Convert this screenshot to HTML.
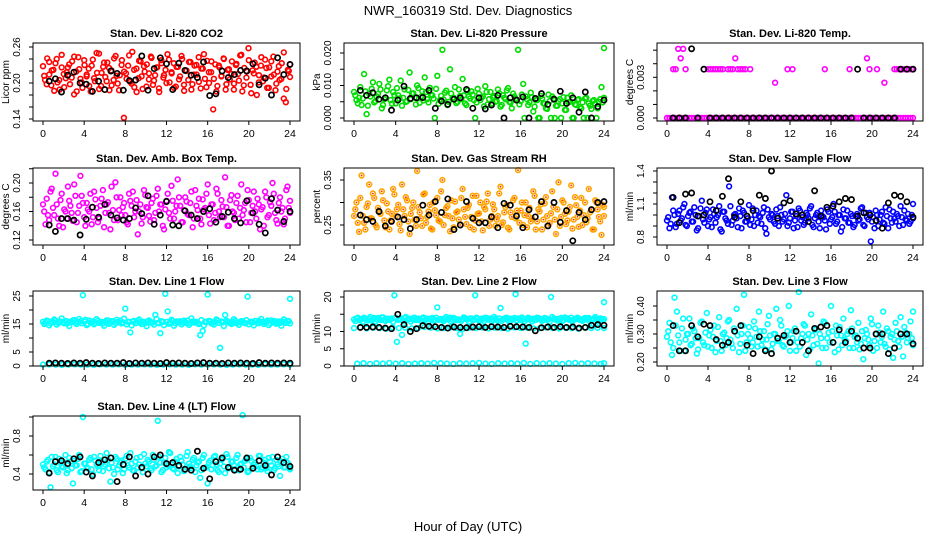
<!DOCTYPE html>
<html><head><meta charset="utf-8">
<style>
html,body{margin:0;padding:0;background:#fff;}
svg{display:block;font-family:"Liberation Sans",sans-serif;}
</style></head>
<body>
<svg id="chart" width="936" height="540" viewBox="0 0 936 540">
<text x="468" y="15" text-anchor="middle" font-size="13">NWR_160319  Std. Dev. Diagnostics</text>
<text x="468" y="531" text-anchor="middle" font-size="13">Hour of Day (UTC)</text>
</svg>
<script>
const hourTicks=[0,4,8,12,16,20,24];
const co2=[228,205,241,214,196,222,233,201,189,247,215,208,226,198,236,181,219,243,207,192,230,211,224,186,239,203,217,249,195,227,210,234,188,221,205,245,199,213,238,142,216,229,202,252,193,224,208,236,190,219,231,206,244,197,213,226,185,238,209,222,248,201,216,233,194,227,211,240,187,220,205,235,198,229,214,243,191,224,207,237,200,218,156,231,195,226,212,241,189,222,206,236,199,230,215,246,186,225,209,258,197,221,234,180,213,229,203,239,192,226,211,244,188,219,205,233,174,168,222,210];
const co2B=[212,198,235,221,187,240,205,226,193,218,231,209,244,186,223,201,238,214,195,229,208,250,190,217,234,203,225,196,241,212,188,230,219,207,246,199,222,185,237,211,228,194,216,242,204,226,191,233,213,200,239,218,192,227,206,245,197,221,235,189,214,230,202,224,248,193,218,236,207,186,229,211,240,198,223,215,189,232,204,247,196,220,238,183,216,227,201,243,209,225,192,236,214,199,228,207,251,190,220,231];
const co2Black=[203,207,185,213,218,200,198,186,203,189,220,216,188,204,205,245,188,224,242,232,189,233,221,213,209,235,179,182,220,209,214,221,220,232,197,208,180,242,214,231];
const pres=[80,55,62,40,135,12,75,90,48,66,105,30,58,85,118,44,70,92,60,38,88,52,140,75,63,100,47,82,125,58,93,70,0,130,55,210,78,40,150,62,95,50,68,120,45,85,60,72,0,90,55,66,98,42,80,63,50,88,35,70,58,92,47,75,60,210,52,105,66,40,78,20,55,0,68,45,30,72,0,60,38,52,0,64,25,48,70,0,40,58,30,0,62,45,28,55,0,50,95,215];
const presB=[70,45,95,60,82,38,66,110,52,74,88,40,63,98,55,80,45,70,115,62,50,86,58,76,42,92,65,54,80,48,72,60,90,44,68,57,84,50,75,62,46,88,58,70,40,66,82,55,48,74,62,36,80,58,45,68,52,76,40,62,85,50,30,66,55,42,72,0,58,48,64,35,55,0,60,44,28,52,66,0,38,58,45,25,62,50,0,42,56,34,48,60,0,38,52,44,30,58,48,62];
const presBlack=[85,70,78,58,62,24,55,98,60,62,63,85,30,52,42,58,62,88,30,62,28,40,70,0,62,55,65,0,60,75,42,58,82,45,62,18,80,0,35,55];
const temp=[0,0,0,0,0,0,0,0,0,0,0,0,0,0,0,0,0,0,0,0,0,0,0,0,0,0,0,0,0,0,0,0,0,0,0,0,0,0,0,0,0,0,0,0,0,0,0,0,0,0,0,0,0,0,0,0,0,0,0,0,0,0,0,0,0,0,0,0,0,0,0,0,0,0,0,0,0,0,0,0,0,0,0,0,0,0,0,0,0,0,0,0,0,0,0,0,0,0,0,0];
const tempUpper=[null,null,36,36,51,44,51,36,null,null,null,null,null,null,null,null,36,36,36,36,36,36,36,null,36,36,36,44,36,36,36,36,null,36,null,null,null,null,null,null,null,null,null,26,null,null,null,null,36,null,36,null,null,null,null,null,null,null,null,null,null,null,null,36,null,null,null,null,null,null,null,null,null,36,null,null,null,null,null,null,44,36,null,null,36,null,null,26,null,null,null,36,36,36,36,36,36,36,36,null];
const tempBlack=[0,0,0,51,0,36,0,0,0,0,0,0,0,0,0,0,0,0,0,0,0,0,0,0,0,0,0,0,0,0,36,0,0,0,0,0,0,36,36,36];
const amb=[170,142,155,188,165,213,150,176,138,160,195,168,147,182,158,210,172,140,163,185,152,177,145,168,190,158,173,135,162,201,148,180,166,155,142,175,188,160,128,170,152,183,165,146,178,158,192,170,140,163,185,150,175,160,205,168,145,180,156,172,138,190,162,150,177,165,198,143,170,158,185,152,167,208,140,176,160,148,182,165,155,172,190,145,168,160,178,135,166,188,152,173,200,158,143,180,165,150,195,158];
const ambB=[160,178,148,192,155,170,140,185,163,150,175,158,198,145,168,182,152,172,160,142,188,165,150,178,138,170,158,195,148,180,162,155,172,145,185,168,152,176,160,143,190,166,154,172,148,182,160,170,135,175,158,196,150,168,180,145,162,174,155,188,150,168,178,142,163,185,155,170,148,192,160,176,152,166,140,183,158,172,150,198,162,145,176,158,188,150,170,163,140,180,155,168,185,148,172,160,142,190,165,175];
const ambBlack=[141,132,150,150,148,127,149,166,152,170,155,151,148,150,165,157,182,142,155,174,141,140,161,155,150,160,164,145,153,159,150,144,175,158,142,130,178,162,146,160];
const rh=[270,300,235,360,255,290,340,265,310,245,280,325,260,298,240,275,318,285,252,340,270,305,230,288,262,370,278,248,320,268,295,240,283,310,258,350,272,292,236,265,302,280,250,330,268,288,245,315,260,275,300,238,285,320,262,296,248,270,335,256,290,244,278,305,265,372,282,250,300,270,258,325,240,285,296,262,312,248,276,290,230,345,268,300,252,280,338,262,294,246,310,272,256,330,285,240,300,268,228,290];
const rhB=[285,255,310,270,240,298,265,320,250,288,275,305,245,280,260,330,270,295,238,285,312,258,275,300,248,290,265,318,255,280,242,300,272,260,325,250,288,270,305,245,278,262,310,285,252,295,268,240,315,276,258,290,302,248,270,285,262,320,250,278,295,240,268,310,282,255,300,272,245,288,265,315,258,280,240,298,270,255,325,262,285,248,305,275,260,290,242,312,268,282,250,300,265,278,240,305,285,258,295,270];
const rhBlack=[272,262,258,280,248,258,268,262,242,262,294,272,302,278,308,240,250,302,265,255,255,268,244,298,294,270,244,284,268,302,248,300,256,282,215,278,262,284,300,302];
const sflow=[95,88,116,100,92,104,97,110,90,102,94,107,86,99,113,93,105,96,89,101,98,108,85,103,95,126,91,100,97,106,88,102,94,109,96,90,104,99,92,107,83,98,101,94,105,90,100,96,118,93,103,88,99,106,95,91,102,97,108,89,100,94,104,98,87,103,96,110,92,100,85,105,97,93,101,89,99,95,106,91,102,96,76,98,104,90,100,93,107,88,97,103,94,99,108,91,96,101,94,110];
const sflowB=[98,92,104,89,101,95,107,91,99,103,94,100,88,106,96,102,90,98,105,93,100,87,103,97,92,108,95,101,89,99,104,94,97,91,106,100,93,98,102,88,105,96,100,92,99,107,94,101,90,97,103,95,89,104,98,93,100,106,91,97,102,88,99,95,105,92,98,103,94,100,89,97,104,93,99,91,101,96,107,90,98,102,94,88,100,96,103,92,99,105,93,97,101,90,98,104,95,92,100,97];
const sflowBlack=[116,93,119,120,99,100,112,104,117,133,98,112,99,104,118,115,140,97,111,113,101,100,94,122,99,107,108,112,115,114,99,102,100,95,88,111,118,117,112,98];
const line1=[158,155,160,152,157,162,154,159,156,161,153,158,163,155,157,160,253,165,150,156,159,154,161,157,152,158,163,155,160,154,157,162,156,205,158,120,159,153,161,156,158,152,160,157,155,183,154,117,158,258,195,156,161,153,158,160,155,157,162,154,159,156,153,110,125,158,255,160,154,157,162,65,156,182,159,154,158,161,155,157,160,153,248,158,156,161,154,159,157,155,162,153,158,160,156,154,159,157,161,240];
const line1B=[150,162,145,158,166,148,155,170,152,160,143,157,164,150,168,153,159,146,162,155,149,167,154,158,144,163,151,160,147,165,156,152,169,149,158,145,161,154,166,150,157,142,163,155,148,168,153,160,146,158,151,165,144,159,156,149,162,153,147,170,155,158,150,164,145,157,161,152,148,166,154,159,143,162,156,150,167,153,147,160,155,164,149,158,145,161,153,168,150,157,146,163,155,151,159,144,166,154,160,152];
const line1Low=[5,6,5,4,5,6,5,5,4,6,5,5,6,4,5,5,6,5,4,5,6,5,5,4,6,5,5,6,5,4,5,6,5,5,4,6,5,5,6,5];
const line1Black=[10,11,10,9,11,10,12,10,9,11,10,10,12,9,11,10,11,10,9,12,10,11,10,9,11,12,10,10,9,11,10,11,10,9,12,10,11,10,11,10];
const line2=[135,138,133,136,140,134,137,132,139,135,136,141,133,137,134,138,205,70,136,90,139,133,137,135,140,134,136,138,132,137,135,139,134,170,136,133,138,135,140,134,137,133,93,136,139,135,138,134,205,137,133,136,140,135,138,134,137,132,168,136,139,134,137,135,208,138,133,136,65,140,135,137,134,139,136,133,138,135,200,137,134,136,139,133,137,135,140,134,136,138,133,137,135,139,134,136,138,135,137,185];
const line2B=[130,140,134,128,138,132,142,136,129,139,133,141,131,137,135,128,140,134,138,130,142,136,129,139,133,137,131,141,135,128,138,132,140,134,136,130,142,137,129,139,133,135,131,141,136,128,138,134,140,132,137,130,139,135,129,142,133,138,131,136,140,128,134,139,132,137,141,130,135,138,129,133,140,136,131,139,134,128,142,137,132,135,130,141,138,133,129,136,140,134,131,139,137,128,135,142,130,138,133,136];
const line2Mid=[110,112,109,111,110,108,112,110,111,109,110,113,111,109,110,112,110,108,111,110,112,109,111,110,108,112,110,111,109,110,112,110,109,111,110,108,112,110,111,110];
const line2Low=[7,8,6,8,7,9,7,8,6,7,8,7,9,8,7,6,8,7,8,9,7,6,8,7,8,7,9,6,8,7,8,7,6,8,9,7,8,7,6,8];
const line2Black=[112,112,113,112,110,108,150,120,100,108,117,115,114,112,110,113,112,111,113,114,112,114,113,112,115,114,113,112,102,111,113,112,114,112,113,110,112,118,120,118];
const line3=[290,340,225,430,380,270,320,240,300,355,265,310,230,285,345,260,375,295,250,330,275,360,240,305,285,350,265,320,390,235,300,440,270,325,255,345,290,380,260,310,280,365,245,300,390,275,330,255,295,400,270,310,240,450,285,335,225,300,370,260,320,195,285,345,250,305,400,270,330,245,295,355,275,310,385,250,295,340,265,210,315,280,355,240,300,330,270,380,255,310,290,215,340,275,360,220,305,285,345,380];
const line3B=[310,270,250,330,295,240,355,280,300,260,320,285,245,340,270,305,255,315,290,235,325,275,300,260,345,280,250,310,295,265,330,240,300,285,270,320,255,310,280,245,335,295,265,300,275,350,260,290,310,240,285,320,270,255,300,330,280,245,295,315,265,300,250,340,285,270,310,235,295,325,260,280,300,250,320,290,270,245,310,285,300,260,335,275,250,305,290,265,320,245,300,280,310,255,290,325,270,300,285,260];
const line3Black=[330,240,240,330,290,335,330,280,260,270,310,330,260,230,290,240,230,285,295,270,310,270,240,320,325,330,270,315,270,310,285,250,250,300,300,230,250,300,300,265];
const line4=[50,45,55,26,48,58,42,52,47,60,44,53,30,49,56,42,100,51,46,57,40,54,48,59,43,50,55,32,47,58,45,52,41,56,49,62,44,53,47,58,42,51,55,46,60,48,96,52,44,57,49,62,46,53,41,58,50,45,63,48,55,42,52,36,57,47,30,54,49,59,44,51,56,41,58,47,53,45,60,50,102,54,42,57,48,52,45,59,47,55,43,53,58,46,50,38,56,47,52,45];
const line4B=[47,53,42,58,50,44,56,48,52,41,57,46,54,49,60,43,51,47,55,45,58,50,44,53,48,62,46,52,40,56,49,54,45,59,47,51,43,57,50,46,61,48,53,44,55,49,58,42,52,47,63,50,45,56,48,54,43,59,51,46,57,49,53,44,60,47,52,45,58,50,42,55,48,61,46,53,49,57,44,51,47,56,43,54,50,48,59,45,52,46,57,49,44,55,48,53,47,58,50,46];
const line4Black=[41,53,54,51,56,58,42,38,52,55,57,32,50,58,38,47,40,58,60,51,52,49,45,44,64,46,35,53,57,47,44,45,57,46,54,49,39,58,52,48];

const co2Ticks=[0.14,0.16,0.18,0.20,0.22,0.24,0.26], co2Labels=["0.14","","","0.20","","","0.26"];
const presTicks=[0,0.005,0.010,0.015,0.020], presLabels=["0.000","","0.010","","0.020"];
const tempTicks=[0,0.001,0.002,0.003,0.004,0.005], tempLabels=["0.000","","","0.003","",""];
const ambTicks=[0.12,0.14,0.16,0.18,0.20,0.22], ambLabels=["0.12","","0.16","","0.20",""];
const rhTicks=[0.25,0.30,0.35], rhLabels=["0.25","","0.35"];
const sfTicks=[0.8,0.9,1.0,1.1,1.2,1.3,1.4], sfLabels=["0.8","","","1.1","","","1.4"];
const l1Ticks=[0,5,10,15,20,25], l1Labels=["0","5","","15","","25"];
const l2Ticks=[0,5,10,15,20], l2Labels=["0","5","10","","20"];
const l3Ticks=[0.20,0.25,0.30,0.35,0.40], l3Labels=["0.20","","0.30","","0.40"];
const l4Ticks=[0.4,0.6,0.8,1.0], l4Labels=["0.4","","0.8",""];

const NS="http://www.w3.org/2000/svg";
const svg=document.getElementById('chart');
const COLX0=[43,354,667], COLW=[247,250,246];
const ROWT=[43,168,291,416], ROWB=[121,245,366,490];
function mk(tag,attrs,parent){const e=document.createElementNS(NS,tag);for(const k in attrs)e.setAttribute(k,attrs[k]);(parent||svg).appendChild(e);return e;}

const panels=[
 {key:'co2',title:'Stan. Dev. Li-820 CO2',ylab:'Licor ppm',c:0,r:0,cal:[0.26,47,0.14,119],div:1000,color:'#ff0000',series:[co2,co2B],black:co2Black,ticks:co2Ticks,labels:co2Labels},
 {key:'pressure',title:'Stan. Dev. Li-820 Pressure',ylab:'kPa',c:1,r:0,cal:[0.020,53,0,118],div:10000,color:'#00dd00',series:[pres,presB],black:presBlack,ticks:presTicks,labels:presLabels},
 {key:'temp',title:'Stan. Dev. Li-820 Temp.',ylab:'degrees C',c:2,r:0,cal:[0.003,77.3,0,118],div:10000,color:'#ff00ff',series:[temp,tempUpper],black:tempBlack,ticks:tempTicks,labels:tempLabels},
 {key:'amb-box-temp',title:'Stan. Dev. Amb. Box Temp.',ylab:'degrees C',c:0,r:1,cal:[0.20,183,0.12,240],div:1000,color:'#ff00ff',series:[amb,ambB],black:ambBlack,ticks:ambTicks,labels:ambLabels},
 {key:'gas-rh',title:'Stan. Dev. Gas Stream RH',ylab:'percent',c:1,r:1,cal:[0.35,180,0.25,225],div:1000,color:'#ffa500',inner:'#ff3000',series:[rh,rhB],black:rhBlack,ticks:rhTicks,labels:rhLabels},
 {key:'sample-flow',title:'Stan. Dev. Sample Flow',ylab:'ml/min',c:2,r:1,cal:[1.4,171,0.8,237],div:100,color:'#0000ff',series:[sflow,sflowB],black:sflowBlack,ticks:sfTicks,labels:sfLabels},
 {key:'line1-flow',title:'Stan. Dev. Line 1 Flow',ylab:'ml/min',c:0,r:2,cal:[25,296,0,366],div:10,color:'#00ffff',series:[line1,line1B,line1Low],black:line1Black,ticks:l1Ticks,labels:l1Labels},
 {key:'line2-flow',title:'Stan. Dev. Line 2 Flow',ylab:'ml/min',c:1,r:2,cal:[20,297,0,366],div:10,color:'#00ffff',series:[line2,line2B,line2Mid,line2Low],black:line2Black,ticks:l2Ticks,labels:l2Labels},
 {key:'line3-flow',title:'Stan. Dev. Line 3 Flow',ylab:'ml/min',c:2,r:2,cal:[0.40,306,0.20,362],div:1000,color:'#00ffff',series:[line3,line3B],black:line3Black,ticks:l3Ticks,labels:l3Labels},
 {key:'line4-flow',title:'Stan. Dev. Line 4 (LT) Flow',ylab:'ml/min',c:0,r:3,cal:[0.8,436,0.4,474],div:100,color:'#00ffff',series:[line4,line4B],black:line4Black,ticks:l4Ticks,labels:l4Labels}
];

panels.forEach(p=>{
  const x0=COLX0[p.c], xw=COLW[p.c], top=ROWT[p.r], bot=ROWB[p.r];
  const left=x0-10, right=x0+xw+10;
  const xs=h=>x0+h*xw/24;
  const [v1,y1,v2,y2]=p.cal;
  const ys=v=>y1+(v-v1)*(y2-y1)/(v2-v1);
  const g=mk('g',{});
  
  
  const t=mk('text',{x:(left+right)/2,y:top-6,'text-anchor':'middle','font-size':'11','font-weight':'bold'},g);
  t.textContent=p.title;
  
  
  const ycx=left-24, ycy=(top+bot)/2;
  const yl=mk('text',{x:ycx,y:ycy,'text-anchor':'middle','font-size':'10',transform:`rotate(-90 ${ycx} ${ycy})`},g);
  yl.textContent=p.ylab;
  
  
  const pts=mk('g',{fill:'none','stroke-width':'1.6'},g);
  
  
  p.series.forEach((arr,si)=>{
    const n=arr.length;
    const off=(si%2===1)?0.5:0;
    arr.forEach((v,i)=>{
      if(v===null)return;
      const h=Math.min(24,(i+off)*24/(n-1));
      const cx=xs(h), cy=ys(v/p.div);
      const c=mk('circle',{cx:cx.toFixed(1),cy:cy.toFixed(1),r:'2.4',stroke:p.color},pts);
      
      
      if(p.inner){const d=mk('circle',{cx:cx.toFixed(1),cy:cy.toFixed(1),r:'0.9',fill:p.inner,stroke:'none'},pts);
        
        }
    });
  });
  const nb=p.black.length;
  p.black.forEach((v,i)=>{
    const c=mk('circle',{cx:xs((i+1)*24/nb).toFixed(1),cy:ys(v/p.div).toFixed(1),r:'2.6',stroke:'#000','stroke-width':'1.7'},pts);
    
    
  });
  const b=mk('rect',{x:left,y:top,width:right-left,height:bot-top,fill:'none',stroke:'#000','stroke-width':'1'},g);
  
  
  hourTicks.forEach(h=>{
    const tk=mk('line',{x1:xs(h),x2:xs(h),y1:bot,y2:bot+4,stroke:'#000'},g);
    
    
    const tl=mk('text',{x:xs(h),y:bot+16,'text-anchor':'middle','font-size':'10.5'},g);
    tl.textContent=String(h);
    
    
  });
  p.ticks.forEach((v,i)=>{
    const y=ys(v);
    const tk=mk('line',{x1:left-4,x2:left,y1:y,y2:y,stroke:'#000'},g);
    
    
    if(p.labels[i]){
      const lx=left-13;
      const tl=mk('text',{x:lx,y:y,'text-anchor':'middle','font-size':'10',transform:`rotate(-90 ${lx} ${y})`},g);
      tl.textContent=p.labels[i];
      
      
    }
  });
});
</script>
</body></html>
